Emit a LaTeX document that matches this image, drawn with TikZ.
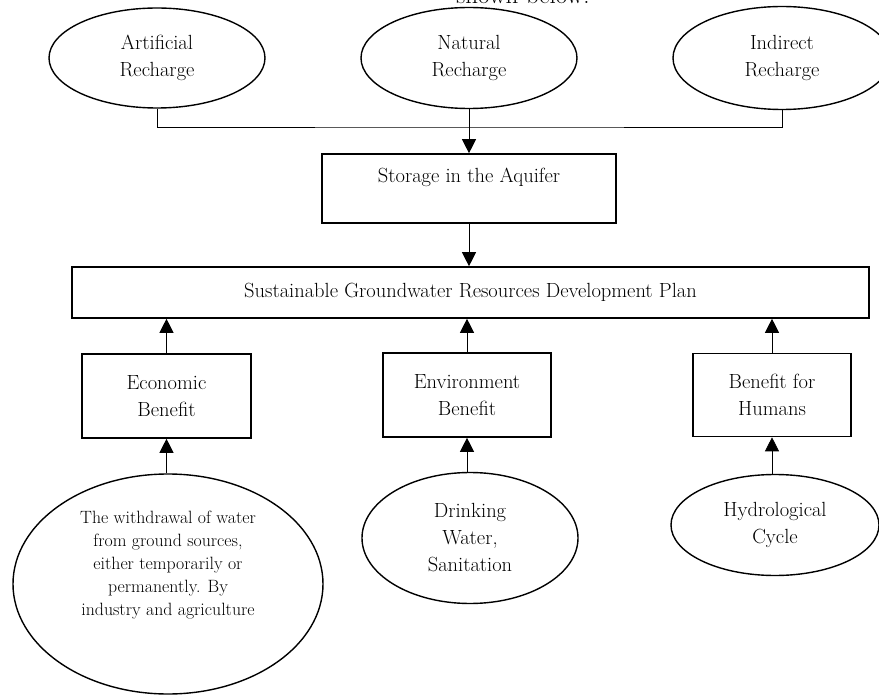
\documentclass[tikz,border=0pt]{standalone}
\usetikzlibrary{shapes.geometric,arrows.meta}

\begin{document}
\begin{tikzpicture}[x=1pt,y=-1pt,
    >={Triangle[width=14pt,length=14pt]},
    every node/.style={font=\fontsize{20.5}{27}\selectfont, align=center, inner sep=0pt},
    oval/.style={draw, ellipse, line width=1.4pt},
    box/.style={draw, rectangle, line width=1.6pt},
    link/.style={line width=0.8pt}]
    \useasboundingbox (0,0) rectangle (879,695);
    \node[anchor=base, font=\fontsize{25}{30}\selectfont] (cap) at (523,4) {shown below.};
    % Recharge ellipses on top
    \node[oval, minimum width=216pt, minimum height=100pt] (art) at (157,58) {Artificial\\Recharge};
    \node[oval, minimum width=216pt, minimum height=101pt] (nat) at (469,58) {Natural\\Recharge};
    \node[oval, minimum width=218pt, minimum height=103pt] (ind) at (782,58) {Indirect\\Recharge};
    % Storage and plan
    \node[box, minimum width=294pt, minimum height=69pt, text height=10pt, text depth=21pt] (store) at (469,188.5) {Storage in the Aquifer};
    \node[box, minimum width=797pt, minimum height=51pt] (plan) at (470.5,292.5) {Sustainable Groundwater Resources Development Plan};
    % Benefit boxes
    \node[box, minimum width=169pt, minimum height=84pt] (eco) at (166.5,396) {Economic\\Benefit};
    \node[box, minimum width=168pt, minimum height=84pt] (env) at (467,395) {Environment\\Benefit};
    \node[box, minimum width=158pt, minimum height=83pt] (hum) at (772,395) {Benefit for\\Humans};
    % Sources at the bottom
    \node[oval, minimum width=310pt, minimum height=220pt, font=\fontsize{17.8}{23}\selectfont] (wd) at (168,584)
        {The withdrawal of water\\from ground sources,\\either temporarily or\\permanently. By\\industry and agriculture\\[18pt]};
    \node[oval, minimum width=216pt, minimum height=131pt] (drink) at (470,538) {Drinking\\Water,\\Sanitation};
    \node[oval, minimum width=208pt, minimum height=101pt] (hydro) at (775,525) {Hydrological\\Cycle};
    % Connectors
    \coordinate (join) at (469,127);
    \draw[link] (art.south) |- (join) -| (ind.south);
    \draw[link,->] (nat.south) -- (store.north);
    \draw[link,->] (store.south) -- (store.south |- plan.north);
    \draw[link,->] (eco.north) -- (eco.north |- plan.south);
    \draw[link,->] (env.north) -- (env.north |- plan.south);
    \draw[link,->] (hum.north) -- (hum.north |- plan.south);
    \draw[link,->] (eco.south |- wd.north) -- (eco.south);
    \draw[link,->] (env.south |- drink.north) -- (env.south);
    \draw[link,->] (hum.south |- hydro.north) -- (hum.south);
\end{tikzpicture}
\end{document}
